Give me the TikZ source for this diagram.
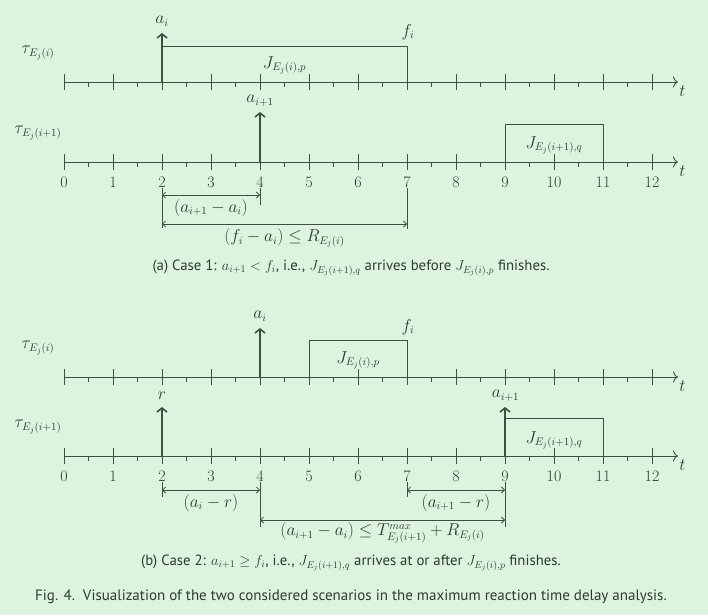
\documentclass[tikz,border=0pt]{standalone}
\usepackage{fontspec}
\setsansfont{PT Sans}
\usetikzlibrary{arrows.meta}
\definecolor{bg}{HTML}{DEF3DE}
\definecolor{ink}{HTML}{3A5243}
\definecolor{txt}{HTML}{2C3B31}
\begin{document}
\begin{tikzpicture}[x=49pt,y=-1pt,
  every node/.style={text=txt,font=\fontsize{16}{19}\selectfont,inner sep=0pt},
  axisline/.style={draw=ink,line width=0.9pt,-{To[length=5pt,width=11pt]}},
  majtick/.style={draw=ink,line width=0.8pt},
  mintick/.style={draw=ink,line width=0.7pt},
  release/.style={draw=ink,line width=2.3pt,-{Straight Barb[length=4pt,width=10pt,line width=1.6pt]}},
  jobbox/.style={draw=ink,line width=0.8pt},
  dimline/.style={draw=ink,line width=0.8pt,{Straight Barb[length=3pt,width=6pt]}-{Straight Barb[length=3pt,width=6pt]}},
  extline/.style={draw=ink,line width=0.8pt},
  capfont/.style={font=\sffamily\fontsize{14.8}{17}\selectfont},
  figfont/.style={font=\sffamily\fontsize{15}{17}\selectfont}]
\path[fill=bg] (-64pt,0pt) rectangle (644pt,-615pt);
\useasboundingbox (-64pt,0pt) rectangle (644pt,-615pt);

% ---------- axes ----------
\foreach \yy/\nm in {82/A,162/B,377/C,456/D} {
  \coordinate (s\nm) at (0,\yy);
  \coordinate (e\nm) at (12.53,\yy);
  \draw[axisline] (s\nm) -- (e\nm);
  \foreach \k in {0,...,12} \draw[majtick] (\k,{\yy-8}) -- (\k,{\yy+8});
  \foreach \k in {0,...,11} \draw[mintick] ({\k+0.5},\yy) -- ({\k+0.5},{\yy+5});
  \node (t\nm) at (12.62,{\yy+9}) {$t$};
}
\foreach \k in {0,...,12} {
  \node (na\k) at (\k,182) {\k};
  \node (nb\k) at (\k,476) {\k};
}

% ---------- panel (a) ----------
\node (tauA) at (-0.53,53) {$\tau_{E_j(i)}$};
\node (tauB) at (-0.53,133) {$\tau_{E_j(i+1)}$};
\coordinate (aiA) at (2,82);
\coordinate (aiAt) at (2,33);
\draw[jobbox] (2,46) -- (7,46) -- (7,82);
\draw[release] (aiA) -- (aiAt);
\node (lai) at (2,21) {$a_i$};
\node (lfi) at (7.02,32) {$f_i$};
\node (Jp) at (4.5,65) {$J_{E_j(i),p}$};
\coordinate (ai1A) at (4,162);
\coordinate (ai1At) at (4,112);
\draw[release] (ai1A) -- (ai1At);
\node (lai1) at (4,101) {$a_{i+1}$};
\draw[jobbox] (9,124) rectangle (11,162);
\node (Jq) at (10,145) {$J_{E_j(i+1),q}$};

\draw[extline] (2,188) -- (2,228);
\draw[extline] (4,188) -- (4,205);
\draw[extline] (7,188) -- (7,229);
\coordinate (d1l) at (2,195); \coordinate (d1r) at (4,195);
\coordinate (d2l) at (2,224); \coordinate (d2r) at (7,224);
\draw[dimline] (d1l) -- (d1r);
\draw[dimline] (d2l) -- (d2r);
\node (L1) at (3,208) {$(a_{i+1}-a_i)$};
\node (L2) at (4.5,238) {$(f_i-a_i)\leq R_{E_j(i)}$};
\node[capfont] (capa) at (5.857,268) {(a) Case 1: $a_{i+1}<f_i$, i.e., $J_{E_j(i+1),q}$ arrives before $J_{E_j(i),p}$ finishes.};

% ---------- panel (b) ----------
\node (tauC) at (-0.53,348) {$\tau_{E_j(i)}$};
\node (tauD) at (-0.53,427) {$\tau_{E_j(i+1)}$};
\draw[jobbox] (5,340) rectangle (7,377);
\node (Jp2) at (6,360) {$J_{E_j(i),p}$};
\node (lfi2) at (7.02,327) {$f_i$};
\coordinate (aiC) at (4,377);
\coordinate (aiCt) at (4,328);
\draw[release] (aiC) -- (aiCt);
\node (lai2) at (4,316) {$a_i$};
\coordinate (rD) at (2,456);
\coordinate (rDt) at (2,407);
\draw[release] (rD) -- (rDt);
\node (lr) at (2,396) {$r$};
\draw[jobbox] (9,418) -- (11,418) -- (11,456);
\coordinate (ai1D) at (9,456);
\coordinate (ai1Dt) at (9,407);
\draw[release] (ai1D) -- (ai1Dt);
\node (lai12) at (9.01,396) {$a_{i+1}$};
\node (Jq2) at (10,440) {$J_{E_j(i+1),q}$};

\draw[extline] (2,482) -- (2,497);
\draw[extline] (4,482) -- (4,527);
\draw[extline] (7,482) -- (7,497);
\draw[extline] (9,482) -- (9,527);
\coordinate (d3l) at (2,490); \coordinate (d3r) at (4,490);
\coordinate (d4l) at (7,490); \coordinate (d4r) at (9,490);
\coordinate (d5l) at (4,520); \coordinate (d5r) at (9,520);
\draw[dimline] (d3l) -- (d3r);
\draw[dimline] (d4l) -- (d4r);
\draw[dimline] (d5l) -- (d5r);
\node (L3) at (3,503) {$(a_i-r)$};
\node (L4) at (8,503) {$(a_{i+1}-r)$};
\node (L5) at (6.5,533) {$(a_{i+1}-a_i)\leq T^{max}_{E_j(i+1)}+R_{E_j(i)}$};
\node[capfont] (capb) at (5.857,563) {(b) Case 2: $a_{i+1}\geq f_i$, i.e., $J_{E_j(i+1),q}$ arrives at or after $J_{E_j(i),p}$ finishes.};
\node[figfont] (figcap) at (5.857,597) {Fig. 4.\ \ Visualization of the two considered scenarios in the maximum reaction time delay analysis.};
\end{tikzpicture}
\end{document}
